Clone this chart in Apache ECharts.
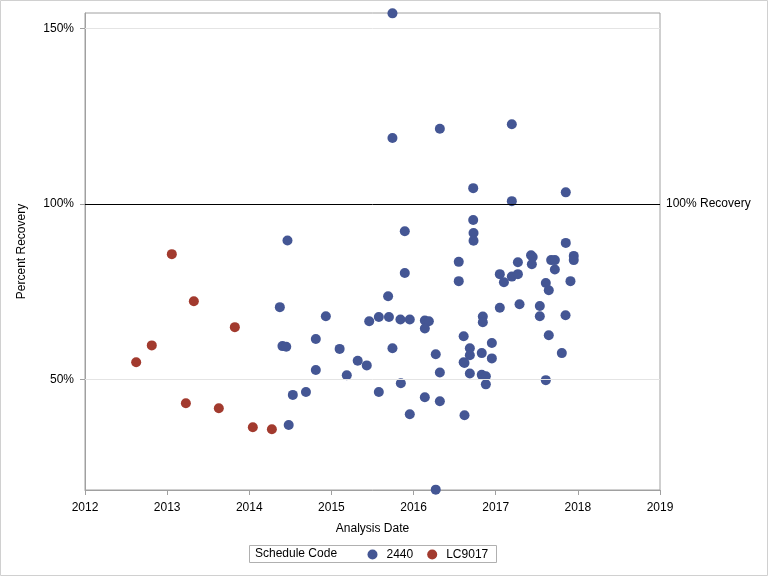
<!DOCTYPE html>
<html>
<head>
<meta charset="utf-8">
<script src="https://cdn.jsdelivr.net/npm/echarts@6/dist/echarts.min.js"></script>
<style>html,body{margin:0;padding:0;background:#fff;}#c{width:768px;height:576px;}</style>
</head>
<body>
<div id="c"></div>
<script>
// Schedule Code 2440
const date2440 = [2014.465,2014.372,2014.932,2015.46,2015.577,2014.81,2014.404,2014.45,2015.10,2015.32,
  2015.43,2014.81,2015.187,2015.577,2014.69,2014.53,2014.48,2016.726,2017.196,2017.853,
  2015.893,2016.726,2016.73,2016.73,2017.853,2016.55,2017.43,2017.45,2017.44,2017.27,
  2017.675,2017.72,2017.95,2017.95,2017.72,2015.893,2017.05,2017.10,2017.196,2017.27,
  2016.55,2017.91,2017.61,2017.646,2015.69,2017.05,2017.29,2017.537,2017.537,2017.85,
  2015.70,2015.84,2015.954,2016.137,2016.186,2016.137,2016.843,2016.843,2016.61,2017.646,
  2015.743,2016.685,2016.685,2016.953,2016.27,2016.83,2017.805,2016.953,2016.61,2016.62,
  2016.32,2016.685,2016.83,2016.88,2016.88,2017.61,2015.845,2016.137,2016.32,2015.954,
  2016.62,2016.27,2015.743,2015.743,2016.32,2017.196];
const pct2440 = [89.6,70.6,68.0,66.6,67.8,61.5,59.5,59.3,58.7,55.3,
  54.0,52.7,51.2,46.4,46.4,45.6,37.0,104.5,100.8,103.3,
  92.2,95.4,91.7,89.5,88.9,83.5,85.4,84.9,82.8,83.4,
  84.0,84.0,85.2,84.0,81.3,80.3,80.0,77.7,79.3,80.0,
  78.0,78.0,77.5,75.4,73.7,70.4,71.4,70.9,68.0,68.3,
  67.8,67.1,67.1,66.8,66.6,64.5,67.9,66.3,62.3,62.6,
  58.9,58.9,56.9,60.4,57.2,57.5,57.5,56.0,54.9,54.7,
  52.0,51.7,51.3,50.9,48.6,49.8,48.9,44.9,43.8,40.1,
  39.8,18.6,154.3,118.8,121.4,122.7];
// Schedule Code LC9017
const dateLC9017 = [2013.057,2013.325,2013.824,2012.813,2012.623,2013.228,2013.629,2014.043,2014.275];
const pctLC9017 = [85.7,72.3,64.9,59.7,54.9,43.2,41.8,36.4,35.8];
// Axis ticks
const xTicks = [2012,2013,2014,2015,2016,2017,2018,2019];
const yTicks = [50,100,150];
const refValue = 100;

const pairs = (xs, ys) => xs.map((x, i) => [x, ys[i]]);
const font = 'Liberation Sans, Arial, sans-serif';
const chart = echarts.init(document.getElementById('c'), null, {renderer: 'canvas'});
chart.setOption({
  animation: false,
  backgroundColor: '#fff',
  textStyle: {fontFamily: font},
  grid: {left: 85, right: 108, top: 13, bottom: 86, show: true, borderColor: '#a0a0a0', borderWidth: 1},
  xAxis: {
    type: 'value', min: xTicks[0], max: xTicks[xTicks.length - 1], interval: 1,
    name: 'Analysis Date', nameLocation: 'middle', nameGap: 33,
    nameTextStyle: {fontSize: 12, color: '#000', fontFamily: font},
    axisLine: {lineStyle: {color: '#a0a0a0'}},
    axisTick: {length: 5, lineStyle: {color: '#a0a0a0'}},
    axisLabel: {margin: 12, fontSize: 12, color: '#000', fontFamily: font, formatter: v => String(v)},
    splitLine: {show: false}
  },
  yAxis: {
    type: 'value', min: 18.5, max: 154.4,
    name: 'Percent Recovery', nameLocation: 'middle', nameGap: 57,
    nameTextStyle: {fontSize: 12, color: '#000', fontFamily: font},
    axisLine: {show: true, lineStyle: {color: '#a0a0a0'}},
    axisTick: {show: true, length: 5, customValues: yTicks, lineStyle: {color: '#a0a0a0'}},
    axisLabel: {margin: 11, fontSize: 12, color: '#000', fontFamily: font, customValues: yTicks, formatter: v => v + '%'},
    splitLine: {show: false}
  },
  legend: {
    data: ['2440', 'LC9017'], left: 367.5, top: 548.5, padding: 0, icon: 'circle',
    itemWidth: 10, itemHeight: 10, itemGap: 14,
    textStyle: {fontSize: 12, color: '#000', fontFamily: font, padding: [0, 0, 0, 4]}
  },
  graphic: [
    {type: 'rect', shape: {x: 0.5, y: 0.5, width: 767, height: 575}, style: {fill: 'none', stroke: '#d0d0d0', lineWidth: 1}, silent: true},
    {type: 'rect', shape: {x: 249.5, y: 545.5, width: 247, height: 17}, style: {fill: 'none', stroke: '#b0b0b0', lineWidth: 1}, silent: true},
    {type: 'text', x: 255, y: 554, style: {text: 'Schedule Code', font: '12px ' + font, fill: '#000', textVerticalAlign: 'middle'}, silent: true}
  ],
  series: [
    {
      name: 'ref', type: 'line', data: [], z: 1, silent: true,
      markLine: {
        silent: true, symbol: 'none', animation: false,
        data: [
          {yAxis: yTicks[0], lineStyle: {color: '#e4e4e4', width: 1, type: 'solid'}, label: {show: false}},
          {yAxis: yTicks[2], lineStyle: {color: '#e4e4e4', width: 1, type: 'solid'}, label: {show: false}},
          {yAxis: refValue, lineStyle: {color: '#000', width: 1, type: 'solid'},
           label: {show: true, position: 'end', distance: 6, formatter: '100% Recovery', fontSize: 12, color: '#000', fontFamily: font}}
        ]
      }
    },
    {name: '2440', type: 'scatter', z: 3, symbolSize: 10, data: pairs(date2440, pct2440), itemStyle: {color: '#445694', opacity: 1}},
    {name: 'LC9017', type: 'scatter', z: 3, symbolSize: 10, data: pairs(dateLC9017, pctLC9017), itemStyle: {color: '#A23A2E', opacity: 1}}
  ]
});
</script>
</body>
</html>
